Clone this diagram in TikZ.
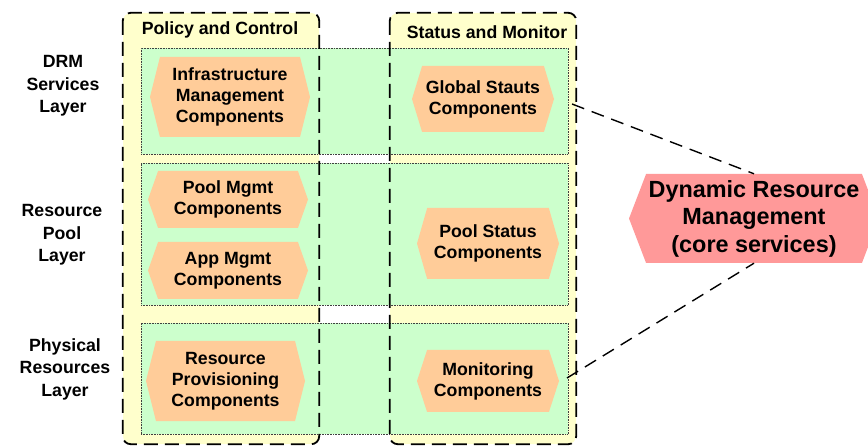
\documentclass[tikz,border=0pt]{standalone}
\usepackage{fontspec}
\setmainfont{Liberation Sans}
\usetikzlibrary{shapes.symbols}
\definecolor{colyellow}{HTML}{FFFFCC}
\definecolor{layergreen}{HTML}{CCFFCC}
\definecolor{hexorange}{HTML}{FFCC99}
\definecolor{corepink}{HTML}{FF9999}
\newcommand{\labfont}{\fontsize{17.7}{21}\selectfont\bfseries}
\newcommand{\sidefont}{\fontsize{17.7}{22.5}\selectfont\bfseries}
\newcommand{\corefont}{\fontsize{23.4}{27.5}\selectfont\bfseries}
\begin{document}
\begin{tikzpicture}[x=1pt,y=-1pt,
  colfill/.style={fill=colyellow, inner sep=0pt, rounded corners=8pt},
  colborder/.style={draw=black, line width=1.8pt, dash pattern=on 14pt off 7pt, rounded corners=8pt},
  layerbox/.style={fill=layergreen, draw=black!75, densely dotted, line width=0.6pt, inner sep=0pt},
  hexbox/.style={shape=signal, signal to=west and east, fill=hexorange, inner sep=0pt, align=center, font=\labfont},
  corebox/.style={shape=signal, signal to=west and east, fill=corepink, inner sep=0pt, align=center, font=\corefont},
  sidelabel/.style={align=center, font=\sidefont, inner sep=0pt},
  title/.style={anchor=base, font=\labfont, inner sep=0pt},
  link/.style={draw=black, line width=1.4pt, dash pattern=on 13pt off 8pt}]
\useasboundingbox (0,0) rectangle (868,446);

% column backgrounds
\node[colfill, minimum width=196pt, minimum height=431pt] (policy) at (221,228.5) {};
\node[colfill, minimum width=186pt, minimum height=431pt] (status) at (483,228.5) {};

% layer bands
\node[layerbox, minimum width=427pt, minimum height=106pt] (drmlayer) at (354.5,101) {};
\node[layerbox, minimum width=427pt, minimum height=142pt] (poollayer) at (354.5,234) {};
\node[layerbox, minimum width=427pt, minimum height=111pt] (physlayer) at (354.5,378.5) {};

% column outlines on top of the bands
\draw[colborder] (policy.north west) rectangle (policy.south east);
\draw[colborder] (status.north west) rectangle (status.south east);

% column titles
\node[title] (policytitle) at (220,35) {Policy and Control};
\node[title] (statustitle) at (487,39) {Status and Monitor};

% layer names
\node[sidelabel] (drmname) at (63,86) {DRM\\Services\\Layer};
\node[sidelabel] (poolname) at (62,235) {Resource\\Pool\\Layer};
\node[sidelabel] (physname) at (65,369) {Physical\\Resources\\Layer};

% components
\node[hexbox, minimum width=160pt, minimum height=80pt, signal pointer angle=152] (infra) at (230,97) {Infrastructure\\Management\\Components};
\node[hexbox, minimum width=142pt, minimum height=66pt, signal pointer angle=146] (global) at (483,99) {Global Stauts\\Components};
\node[hexbox, minimum width=160pt, minimum height=57pt, signal pointer angle=141] (poolmgmt) at (228,199.5) {Pool Mgmt\\Components};
\node[hexbox, minimum width=160pt, minimum height=57pt, signal pointer angle=141] (appmgmt) at (228,270.5) {App Mgmt\\Components};
\node[hexbox, minimum width=142pt, minimum height=71pt, signal pointer angle=148] (poolstatus) at (488,243.5) {Pool Status\\Components};
\node[hexbox, minimum width=159pt, minimum height=80pt, signal pointer angle=152] (provision) at (225.5,381) {Resource\\Provisioning\\Components};
\node[hexbox, minimum width=142pt, minimum height=62pt, signal pointer angle=144] (monitor) at (488,381) {Monitoring\\Components};

% core services
\node[corebox, minimum width=250pt, minimum height=89pt, signal pointer angle=138] (drm) at (754,218.5) {Dynamic Resource\\Management\\(core services)};

% links to the core services
\coordinate (gsout) at (572,104);
\coordinate (monout) at (567,378);
\draw[link] (gsout) -- (drm.north);
\draw[link] (monout) -- (drm.south);
\end{tikzpicture}
\end{document}
